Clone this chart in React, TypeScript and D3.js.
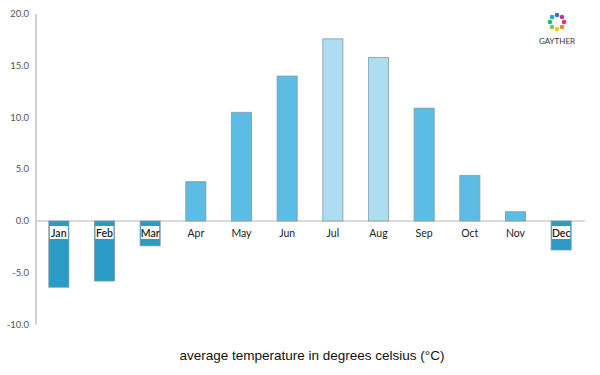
import React from "react";
import * as d3 from "d3";

const months = ["Jan", "Feb", "Mar", "Apr", "May", "Jun", "Jul", "Aug", "Sep", "Oct", "Nov", "Dec"];
const temps = [-6.4, -5.8, -2.4, 3.8, 10.5, 14.0, 17.6, 15.8, 10.9, 4.4, 0.9, -2.8];
const yTicks = [-10, -5, 0, 5, 10, 15, 20];
const title = "average temperature in degrees celsius (°C)";

const W = 600, H = 375;
const m = { left: 36, right: 15, top: 14, bottom: 50 };

function barColor(v: number) {
  if (v < 0) return "#2a9bc4";
  if (v > 15) return "#aedcf1";
  return "#5bbce6";
}

export default function App() {
  const x = d3.scaleBand<string>().domain(months).range([m.left, 584]).paddingInner(0.56).paddingOuter(0.28);
  const y = d3.scaleLinear().domain([-10, 20]).range([324.5, 14]);
  const y0 = y(0);
  const petals = d3.range(8);
  const petalColors = ["#e23b4f", "#f08a24", "#f4c51c", "#8cc63f", "#2bb673", "#28a9c7", "#3b6fc4", "#b3399a"];
  return (
    <svg width={W} height={H} style={{ position: "absolute", left: 0, top: 0, background: "#fff" }}>
      <line x1={m.left} x2={m.left} y1={y(20)} y2={y(-10)} stroke="#d0d0d0" strokeWidth={2} />
      <line x1={m.left} x2={585} y1={y0} y2={y0} stroke="#cfcfcf" strokeWidth={1.5} />
      {yTicks.map((t) => (
        <text key={t} x={29} y={y(t) + 3} textAnchor="end" fontFamily="Lato, 'DejaVu Sans', sans-serif" fontSize={9.5} fill="#555">
          {t.toFixed(1)}
        </text>
      ))}
      {months.map((mo, i) => {
        const v = temps[i];
        const bx = x(mo)!;
        const top = Math.min(y(v), y0);
        const h = Math.abs(y(v) - y0);
        return (
          <rect key={mo} x={bx} y={top} width={x.bandwidth()} height={h} fill={barColor(v)} stroke="#7f9aa8" strokeOpacity={0.8} strokeWidth={1} />
        );
      })}
      {months.map((mo, i) => {
        const v = temps[i];
        const cx = x(mo)! + x.bandwidth() / 2;
        return (
          <g key={mo + "l"}>
            {v < 0 && <rect x={x(mo)! + 1} y={226} width={x.bandwidth() - 2} height={13} fill="#fff" />}
            <text x={cx} y={236.5} textAnchor="middle" fontFamily="Lato, 'DejaVu Sans', sans-serif" fontSize={10.5} fill="#222" fontWeight={v < 0 ? 600 : 400}>
              {mo}
            </text>
          </g>
        );
      })}
      <text x={312} y={360} textAnchor="middle" fontFamily="'Liberation Sans', Arial, sans-serif" fontSize={13.5} fill="#111">
        {title}
      </text>
      <g transform="translate(557,22)">
        {petals.map((p) => {
          const a = (p / 8) * Math.PI * 2;
          return <circle key={p} cx={Math.cos(a) * 7} cy={Math.sin(a) * 7} r={2.3} fill={petalColors[p]} />;
        })}
      </g>
      <text x={557} y={44} textAnchor="middle" fontFamily="Lato, sans-serif" fontSize={8} fill="#333">GAYTHER</text>
    </svg>
  );
}
